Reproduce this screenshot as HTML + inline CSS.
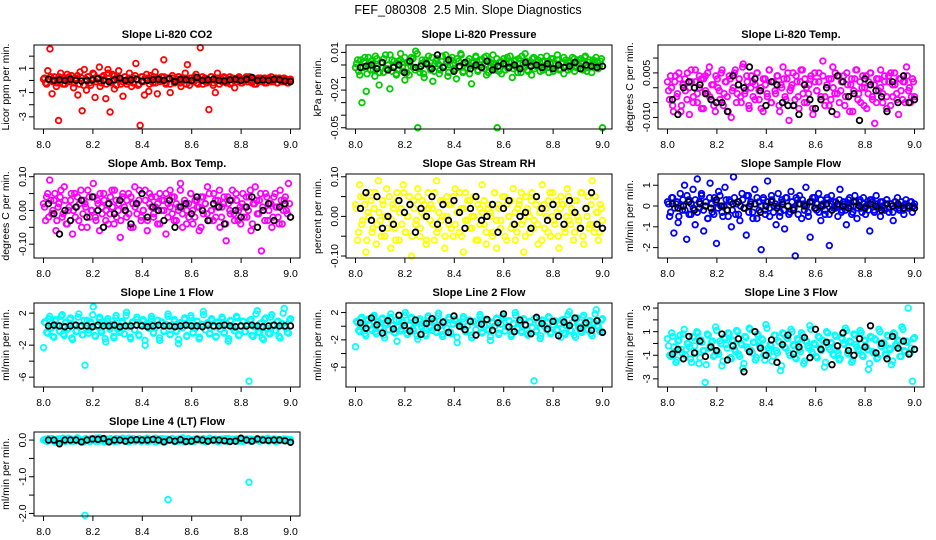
<!DOCTYPE html>
<html><head><meta charset="utf-8">
<style>
html,body{margin:0;padding:0;background:#fff;}
svg{display:block;font-family:"Liberation Sans",Arial,sans-serif;}
</style></head>
<body>
<svg id="chart" width="936" height="540" viewBox="0 0 936 540" xmlns="http://www.w3.org/2000/svg">
<rect x="0" y="0" width="936" height="540" fill="#fff"/>
<text x="468" y="14" text-anchor="middle" font-size="12.5" xml:space="preserve">FEF_080308  2.5 Min. Slope Diagnostics</text>
</svg>
<script>
const xTicks = [8.0, 8.2, 8.4, 8.6, 8.8, 9.0];
const xTickLabels = ["8.0", "8.2", "8.4", "8.6", "8.8", "9.0"];

const co2Vals = [0.1,-0.2,0.8,2.6,-1.1,0.3,-0.5,-3.3,0.6,0.2,-0.3,0.5,-0.1,0.4,-0.6,0.2,-1.2,0.7,-2.5,0.9,-0.8,0.3,-0.4,0.6,-1.4,0.1,1.1,-0.2,0.4,-1.5,0.9,-2.6,0.5,-0.7,0.2,0.8,-0.3,-1.3,0.3,-0.1,0.6,-0.5,0.2,1.4,-0.4,-3.7,0.3,-1.2,0.5,-0.9,0.4,-0.2,0.7,-1.1,0.1,0.3,1.7,-0.3,0.2,-1.0,0.4,-0.2,0.1,0.3,-0.5,0.2,0.6,1.3,-0.4,0.2,-0.1,0.5,-0.3,2.7,0.3,0.1,-0.2,-2.4,0.3,-0.4,-1.0,0.6,0.2,-0.1,0.3,-0.2,0.1,-0.3,0.2,-0.6,0.1,0.3,-0.2,0.1,0.2,-0.1,0.3,-0.2,0.1,-0.3,0.2,0.1,-0.1,0.2,-0.2,0.1,0.3,-0.1,0.2,-0.2,0.1,-0.1,0.2,0.1,-0.2,0.1];
const co2Vals2 = [0.2,-0.3,0.1,0.3,-0.1,0.0,-0.2,0.3,0.1,-0.3,0.2,-0.1,0.3,0.0,-0.2,0.1,0.4,-0.3,0.2,-0.4,0.1,0.3,-0.2,0.0,0.5,-0.1,0.2,-0.5,0.3,0.1,-0.3,0.6,-0.2,0.0,0.4,-0.4,0.2,0.1,-0.1,0.3,-0.3,0.2,0.0,-0.2,0.4,0.1,-0.3,0.3,-0.1,0.2,0.0,-0.3,0.1,0.3,-0.2,0.2,-0.1,0.0,0.3,-0.2,0.1,-0.3,0.2,0.0,-0.1,0.3,-0.2,0.1,0.2,-0.3,0.0,0.2,-0.1,0.3,-0.2,0.1,0.0,-0.3,0.2,0.1,-0.1,0.3,-0.2,0.0,0.2,-0.3,0.1,0.2,-0.1,0.0,0.3,-0.2,0.1,-0.1,0.2,0.0,-0.2,0.1,0.3,-0.1,0.0,0.2,-0.3,0.1,-0.1,0.2,0.0,-0.2,0.1,0.2,-0.1,0.0,0.1,-0.2,0.2,0.0,-0.1,0.1,-0.2,0.0];
const co2Ref = [0.1,0.0,0.05,0.0,0.1,0.0,-0.05,0.0,0.05,0.15,0.0,-0.1,0.05,0.2,0.0,0.05,0.1,-0.05,0.0,0.05,0.1,0.0,0.15,-0.1,0.1,0.05,0.0,0.25,0.0,0.05,0.1,0.0,-0.05,0.05,0.1,0.0,0.1,0.25,0.0,0.05,0.0,0.1,0.05,-0.05,-0.1];

const presVals = [-0.002,0.004,-0.008,-0.03,0.003,-0.021,0.006,-0.004,0.001,-0.009,0.005,-0.016,0.002,-0.006,0.008,-0.003,-0.019,0.004,-0.001,-0.007,0.003,0.009,-0.005,-0.012,0.002,-0.008,0.006,-0.002,0.011,-0.05,-0.006,0.004,-0.01,0.002,0.007,-0.004,-0.013,0.001,0.005,-0.007,0.003,-0.002,0.008,-0.009,0.0,0.006,-0.004,-0.011,0.003,0.009,-0.006,0.001,-0.003,0.005,-0.015,0.002,0.007,-0.005,0.004,-0.002,0.006,-0.008,0.003,-0.001,0.008,-0.004,-0.05,0.002,-0.007,0.005,0.001,-0.003,0.007,-0.01,0.003,-0.002,0.005,-0.006,0.001,0.009,-0.004,0.002,-0.008,0.006,-0.001,0.004,-0.005,0.003,-0.002,0.007,-0.006,0.002,0.005,-0.003,0.008,-0.004,0.001,-0.007,0.004,0.002,-0.003,0.006,-0.005,0.003,0.0,0.005,-0.004,0.007,-0.002,0.004,-0.006,0.001,0.006,-0.003,0.003,-0.05];
const presVals2 = [0.001,-0.005,0.004,-0.002,0.006,-0.007,0.0,0.003,-0.004,0.007,-0.001,-0.006,0.002,0.005,-0.003,0.0,0.008,-0.005,0.003,-0.008,0.001,0.004,-0.002,0.006,-0.006,0.002,-0.001,0.005,-0.004,0.009,-0.003,0.001,-0.007,0.004,0.0,-0.002,0.006,-0.005,0.003,0.001,-0.004,0.007,-0.001,0.002,-0.006,0.004,0.0,-0.003,0.005,-0.002,0.008,-0.005,0.001,0.003,-0.007,0.002,-0.001,0.006,-0.004,0.0,0.004,-0.003,0.007,-0.006,0.002,0.001,-0.002,0.005,-0.005,0.003,0.0,-0.004,0.006,-0.001,0.002,-0.003,0.004,-0.006,0.001,0.007,-0.002,0.003,-0.005,0.0,0.005,-0.003,0.002,-0.001,0.006,-0.004,0.003,0.0,-0.002,0.005,-0.005,0.001,0.004,-0.003,0.002,0.006,-0.001,-0.004,0.003,0.0,0.005,-0.002,0.004,-0.003,0.001,0.006,-0.005,0.002,0.0,0.004,-0.002,0.003,-0.001,0.005];
const presRef = [-0.002,-0.001,0.0,-0.003,0.002,-0.004,-0.002,0.0,-0.006,0.003,-0.002,-0.001,0.001,-0.003,0.008,-0.002,0.004,-0.005,-0.001,0.002,-0.003,0.0,-0.002,0.003,-0.004,-0.001,0.001,-0.002,0.0,-0.003,0.002,-0.001,0.0,-0.002,0.001,-0.003,0.0,-0.002,-0.001,0.002,-0.003,0.0,-0.001,-0.002,-0.001];

const tempVals = [0.002,-0.004,0.0,-0.008,0.004,-0.002,0.003,-0.006,0.001,-0.001,0.005,-0.009,0.002,-0.003,0.006,-0.005,0.0,0.003,-0.007,0.004,-0.002,0.007,-0.004,0.001,-0.008,0.003,-0.001,0.005,-0.006,0.002,-0.003,0.004,-0.01,0.0,0.006,-0.002,0.003,-0.005,0.008,-0.001,0.002,-0.007,0.004,-0.003,0.001,0.005,-0.004,0.0,-0.008,0.003,-0.002,0.006,-0.005,0.002,-0.001,0.004,-0.006,0.001,0.007,-0.003,0.003,-0.011,0.0,0.005,-0.004,0.002,-0.007,0.006,-0.002,0.003,-0.005,0.001,0.004,-0.009,0.002,-0.001,0.005,-0.003,0.009,-0.006,0.0,0.003,-0.004,0.007,-0.002,-0.009,0.004,-0.001,0.002,-0.006,0.005,-0.003,0.001,-0.008,0.003,0.006,-0.002,-0.005,0.004,0.0,-0.007,0.002,0.005,-0.004,-0.012,0.003,-0.001,0.006,-0.005,0.002,-0.003,0.004,-0.006,0.001,0.005,-0.002,-0.009,0.003,-0.004,0.002,0.007,-0.001,-0.005,0.003,-0.003];
const tempVals2 = [-0.001,0.004,-0.006,0.002,-0.003,0.005,-0.008,0.001,0.003,-0.004,0.0,0.006,-0.005,0.002,-0.002,0.004,-0.007,0.003,-0.001,0.005,-0.003,0.001,-0.006,0.004,0.0,-0.004,0.006,-0.002,0.002,-0.008,0.003,-0.001,0.005,-0.005,0.001,-0.003,0.007,-0.002,0.004,-0.006,0.0,0.002,-0.004,0.005,-0.001,-0.007,0.003,0.001,-0.003,0.006,-0.005,0.002,-0.002,0.004,-0.008,0.0,0.003,-0.004,0.005,-0.001,0.001,-0.006,0.004,-0.003,0.002,0.006,-0.005,0.0,-0.002,0.003,-0.007,0.005,-0.001,0.002,-0.004,0.004,-0.003,0.001,-0.006,0.003,0.0,0.005,-0.002,-0.005,0.002,0.004,-0.003,0.001,-0.008,0.003,-0.001,0.006,-0.004,0.002,0.0,-0.006,0.004,-0.002,0.005,-0.003,0.001,-0.005,0.003,0.0,-0.002,0.004,-0.007,0.002,0.005,-0.003,0.001,-0.004,0.003,-0.001,0.002,-0.005,0.004,0.0,-0.003,0.002];
const tempRef = [-0.004,-0.009,0.0,0.002,0.0,0.001,-0.002,-0.004,-0.005,-0.005,-0.008,0.004,0.001,0.0,0.007,0.003,-0.001,-0.006,0.002,0.001,-0.005,-0.006,-0.006,-0.009,0.001,-0.004,-0.007,-0.004,0.0,-0.008,0.004,0.002,-0.003,-0.002,-0.011,0.003,0.001,-0.001,-0.003,-0.008,0.002,-0.005,0.004,-0.005,-0.004];

const ambVals = [0.02,-0.03,0.05,0.09,-0.01,0.03,-0.06,0.01,0.04,-0.02,0.07,-0.04,0.0,0.03,-0.07,0.05,0.01,-0.03,0.06,-0.01,0.02,-0.05,0.04,0.0,0.08,-0.02,0.03,-0.06,0.01,0.05,-0.03,0.02,-0.01,0.06,-0.04,0.03,0.0,-0.08,0.04,0.01,-0.02,0.05,-0.05,0.02,0.07,-0.01,0.03,-0.03,0.0,0.06,-0.06,0.02,0.04,-0.02,0.01,-0.04,0.05,0.0,0.03,-0.07,0.02,0.06,-0.01,0.04,-0.03,0.01,0.08,-0.05,0.02,0.0,-0.02,0.05,-0.04,0.03,0.01,-0.06,0.04,-0.01,0.02,0.07,-0.03,0.0,0.05,-0.02,0.03,-0.05,0.01,0.04,-0.09,0.02,-0.01,0.06,-0.03,0.03,0.0,-0.04,0.05,0.01,-0.02,0.04,-0.06,0.02,0.07,-0.01,0.03,-0.12,0.0,0.05,-0.03,0.02,-0.05,0.04,0.01,-0.02,0.06,-0.04,0.03,0.0,0.08,-0.02];
const ambVals2 = [0.01,0.04,-0.02,0.03,0.0,0.05,-0.03,0.02,0.06,-0.01,0.03,-0.04,0.01,0.05,0.0,-0.02,0.04,0.02,-0.05,0.03,0.01,0.06,-0.02,0.0,0.04,-0.03,0.02,0.05,-0.01,0.03,0.0,-0.04,0.04,0.01,0.06,-0.02,0.02,-0.03,0.05,0.0,0.03,-0.01,0.04,-0.05,0.01,0.02,0.06,-0.02,0.0,0.03,-0.03,0.05,0.01,-0.01,0.04,0.02,-0.04,0.03,0.0,0.05,-0.02,0.01,0.04,-0.03,0.02,0.0,0.06,-0.01,0.03,-0.04,0.02,0.05,0.0,-0.02,0.03,0.01,-0.05,0.04,0.02,-0.01,0.05,0.0,-0.03,0.03,0.01,0.06,-0.02,0.02,-0.04,0.04,0.0,0.03,-0.01,0.05,-0.03,0.01,0.02,-0.02,0.04,0.0,0.06,-0.04,0.02,0.03,-0.01,0.05,0.01,-0.03,0.04,0.0,0.02,-0.02,0.05,0.01,-0.04,0.03,0.0,0.04,-0.01,0.02];
const ambRef = [0.02,-0.01,-0.07,0.0,-0.03,0.01,0.03,-0.02,0.04,0.0,-0.05,0.02,-0.01,0.03,0.0,-0.04,0.02,0.05,-0.02,0.01,0.0,-0.03,0.03,-0.05,0.01,0.02,-0.01,0.04,0.0,-0.03,0.02,0.01,-0.04,0.03,0.0,-0.02,0.01,0.04,-0.05,0.0,0.02,-0.03,0.01,0.02,-0.02];

const rhVals = [0.03,-0.06,0.08,-0.02,0.05,-0.09,0.01,0.06,-0.04,0.02,-0.07,0.09,-0.01,0.04,-0.05,0.07,0.0,-0.08,0.03,-0.03,0.06,-0.06,0.02,0.08,-0.04,0.0,0.05,-0.1,0.04,-0.02,0.07,-0.05,0.01,0.03,-0.07,0.06,-0.01,0.02,-0.06,0.09,-0.03,0.04,0.0,-0.08,0.05,-0.02,0.03,-0.05,0.07,0.01,-0.04,0.02,-0.09,0.06,-0.01,0.04,-0.03,0.0,0.05,-0.06,0.02,0.08,-0.02,-0.07,0.03,0.01,-0.04,0.06,-0.08,0.02,-0.01,0.05,-0.05,0.03,0.0,-0.03,0.07,-0.06,0.02,0.04,-0.02,-0.09,0.05,0.01,-0.04,0.06,-0.01,0.03,-0.07,0.02,0.08,-0.03,0.0,0.04,-0.05,0.06,-0.02,0.01,-0.08,0.05,0.03,-0.04,0.07,-0.01,0.02,-0.06,0.04,0.0,-0.03,0.06,-0.07,0.02,0.05,-0.02,0.09,-0.04,0.01,-0.06,0.03,-0.01];
const rhVals2 = [0.02,-0.04,0.05,-0.01,0.03,-0.06,0.0,0.04,-0.03,0.06,-0.02,0.01,-0.05,0.03,0.0,-0.03,0.05,-0.01,0.02,-0.06,0.04,0.01,-0.02,0.06,-0.04,0.0,0.03,-0.05,0.02,-0.01,0.05,-0.03,0.04,0.0,-0.06,0.02,0.03,-0.02,0.06,-0.04,0.01,-0.01,0.04,-0.05,0.0,0.03,-0.03,0.05,-0.02,0.01,0.06,-0.05,0.02,-0.01,0.04,-0.03,0.0,0.05,-0.06,0.03,-0.02,0.01,0.04,-0.04,0.02,0.0,-0.05,0.06,-0.01,0.03,-0.03,0.02,0.05,-0.06,0.0,0.04,-0.02,0.01,-0.04,0.03,0.06,-0.01,-0.05,0.02,0.0,0.04,-0.03,0.05,-0.02,0.01,-0.06,0.03,0.02,-0.04,0.06,0.0,-0.01,0.04,-0.05,0.02,0.03,-0.03,0.0,0.05,-0.02,0.01,-0.04,0.04,-0.01,0.06,-0.05,0.02,0.0,-0.03,0.03,-0.02,0.05,0.01,-0.04,0.02];
const rhRef = [0.02,0.06,-0.01,0.05,-0.03,0.0,-0.02,0.04,0.01,0.03,-0.04,0.02,0.0,0.05,-0.02,0.03,-0.01,0.04,0.01,-0.03,0.02,0.05,-0.01,0.0,0.03,-0.04,0.02,0.04,-0.02,0.0,0.01,-0.03,0.05,0.02,-0.01,0.03,0.0,-0.02,0.04,0.01,-0.03,0.02,0.06,-0.02,-0.03];

const sampVals = [0.2,-0.5,0.4,-1.3,0.1,-0.8,0.6,-0.2,1.0,-1.6,0.3,-0.4,0.8,-0.9,1.3,-0.1,0.5,-1.2,0.2,-0.6,1.1,-0.3,0.4,-1.8,0.7,0.0,-0.5,0.9,-0.2,0.3,-1.0,1.4,-0.4,0.2,-0.7,0.6,-0.1,-1.4,0.5,0.1,-0.3,0.8,-0.6,0.2,-2.1,0.4,-0.2,1.2,-0.5,0.3,0.0,-0.9,0.6,-0.3,0.2,-1.1,0.4,-0.4,0.7,-0.1,-2.4,0.3,0.5,-0.6,0.1,0.9,-0.3,-1.5,0.2,0.4,-0.2,0.6,-0.7,0.1,-0.4,0.3,-1.9,0.5,-0.1,0.2,-0.5,0.8,-0.2,0.1,-0.9,0.3,0.0,-0.3,0.5,-0.6,0.2,-0.1,0.4,-0.4,0.1,-1.2,0.3,-0.2,0.5,0.0,-0.5,0.2,-0.1,0.3,-0.3,0.1,-0.7,0.2,0.4,-0.2,0.0,-0.4,0.3,-0.1,0.2,-0.3,0.1];
const sampVals2 = [0.1,-0.3,0.4,-0.1,0.2,-0.5,0.0,0.3,-0.2,0.5,-0.4,0.1,-0.1,0.3,-0.3,0.2,0.6,-0.2,0.0,-0.6,0.4,0.1,-0.4,0.2,-0.1,0.5,-0.3,0.0,0.3,-0.5,0.2,-0.2,0.4,0.1,-0.4,0.0,0.3,-0.1,0.5,-0.3,0.2,-0.6,0.1,0.4,-0.2,0.0,0.3,-0.4,0.2,-0.1,0.5,-0.3,0.1,0.0,-0.5,0.3,-0.2,0.4,0.0,-0.3,0.2,-0.1,0.4,-0.4,0.1,0.3,-0.2,0.0,-0.5,0.2,0.4,-0.1,0.1,-0.3,0.3,0.0,-0.2,0.4,-0.4,0.1,0.2,-0.1,0.0,0.3,-0.3,0.2,-0.2,0.1,0.4,-0.4,0.0,0.2,-0.1,0.3,-0.3,0.1,0.0,-0.2,0.3,0.2,-0.3,0.1,-0.1,0.2,0.0,-0.2,0.3,-0.1,0.1,-0.3,0.2,0.0,-0.1,0.2,-0.2,0.1,0.0,-0.1,0.2,0.0];
const sampRef = [0.1,-0.1,0.0,0.2,-0.2,0.1,0.0,-0.1,0.3,0.0,-0.2,0.1,0.2,-0.1,0.0,0.1,-0.3,0.0,0.2,-0.1,0.1,0.0,-0.2,0.1,0.0,0.2,-0.1,0.0,0.1,-0.2,0.1,0.0,-0.1,0.2,0.0,-0.1,0.1,0.0,-0.2,0.1,0.0,0.1,-0.1,0.0,-0.1];

const line1Vals = [-2.3,0.8,-0.5,1.6,0.2,-1.0,1.2,0.5,-0.3,1.8,-0.8,0.9,0.1,1.4,-1.3,0.6,-0.2,1.9,0.4,-0.7,-4.5,1.1,-0.1,0.7,2.8,-0.9,0.3,1.5,-0.4,0.9,-1.6,1.3,0.0,0.6,-1.1,1.7,0.2,-0.3,1.0,-0.6,2.1,0.4,-1.2,0.8,-0.1,1.5,-0.8,0.5,1.2,-2.0,0.7,0.1,1.6,-0.5,0.3,1.1,-1.4,0.9,-0.2,0.6,1.9,-0.7,0.4,1.2,-0.3,-1.8,0.8,0.2,1.4,-0.9,0.5,1.7,-0.4,0.1,1.0,-1.2,0.6,2.2,-0.1,0.8,-0.6,1.3,0.3,-1.0,0.9,0.0,1.5,-0.5,0.7,-1.5,1.1,0.2,-0.2,1.6,-0.8,0.4,1.0,-0.3,0.6,-6.5,1.2,-0.9,0.3,2.3,-0.4,0.8,-1.3,1.4,0.1,-0.6,1.8,0.5,-0.2,1.0,-1.1,0.7,2.6,0.2,-0.5,1.3];
const line1Vals2 = [0.9,-0.4,1.3,0.2,-0.9,1.0,0.5,-0.2,1.6,-0.6,0.8,0.0,1.2,-1.1,0.6,-0.3,1.5,0.3,-0.7,1.1,0.1,-0.5,0.9,1.8,-0.8,0.4,1.3,-0.2,0.7,-1.2,1.0,0.2,0.5,-0.9,1.4,0.0,-0.4,0.8,-0.6,1.7,0.3,-1.0,0.9,-0.1,1.2,-0.7,0.6,1.0,-1.4,0.5,0.1,1.3,-0.4,0.2,1.1,-1.1,0.8,-0.3,0.6,1.6,-0.6,0.4,1.0,-0.2,-1.3,0.7,0.2,1.2,-0.8,0.5,1.4,-0.5,0.1,0.9,-1.0,0.6,1.8,-0.1,0.7,-0.5,1.1,0.3,-0.9,0.8,0.0,1.3,-0.4,0.6,-1.2,1.0,0.2,-0.2,1.4,-0.7,0.4,0.9,-0.3,0.6,1.1,-0.8,0.3,1.9,-0.4,0.7,-1.1,1.2,0.1,-0.5,1.5,0.5,-0.2,0.9,-0.9,0.6,2.0,0.2,-0.4,1.1];
const line1Ref = [0.4,0.5,0.4,0.3,0.4,0.5,0.4,0.4,0.3,0.5,0.4,0.4,0.5,0.3,0.4,0.4,0.5,0.4,0.3,0.4,0.5,0.4,0.4,0.3,0.4,0.5,0.4,0.4,0.3,0.5,0.4,0.4,0.5,0.4,0.3,0.4,0.4,0.5,0.4,0.3,0.4,0.5,0.4,0.4,0.4];

const line2Vals = [-3.0,0.5,-0.8,1.3,0.0,-1.4,1.0,0.2,-0.6,1.6,-1.1,0.7,-0.2,1.2,-1.7,0.4,-0.5,1.8,0.1,-1.0,-2.2,0.9,-0.4,0.5,2.0,-1.2,0.1,1.3,-0.7,0.6,-1.9,1.1,-0.2,0.4,-1.4,1.5,0.0,-0.6,0.8,-0.9,1.9,0.2,-1.5,0.6,-0.3,1.3,-1.1,0.3,1.0,-2.4,0.5,-0.1,1.4,-0.8,0.1,0.9,-1.7,0.7,-0.5,0.4,1.7,-1.0,0.2,1.0,-0.6,-2.1,0.6,0.0,1.2,-1.2,0.3,1.5,-0.7,-0.1,0.8,-1.5,0.4,2.0,-0.4,0.6,-0.9,1.1,0.1,-1.3,0.7,-0.2,-8.0,-0.8,0.5,-1.8,0.9,0.0,-0.5,1.4,-1.1,0.2,0.8,-0.6,0.4,-1.6,1.0,-1.2,0.1,2.1,-0.7,0.6,-1.6,1.2,-0.1,-0.9,1.6,0.3,-0.5,0.8,-1.4,0.5,2.4,0.0,-0.8,1.1];
const line2Vals2 = [0.7,-0.6,1.1,0.0,-1.1,0.8,0.3,-0.4,1.4,-0.8,0.6,-0.2,1.0,-1.3,0.4,-0.5,1.3,0.1,-0.9,0.9,-0.1,-0.7,0.7,1.6,-1.0,0.2,1.1,-0.4,0.5,-1.4,0.8,0.0,0.3,-1.1,1.2,-0.2,-0.6,0.6,-0.8,1.5,0.1,-1.2,0.7,-0.3,1.0,-0.9,0.4,0.8,-1.6,0.3,-0.1,1.1,-0.6,0.0,0.9,-1.3,0.6,-0.5,0.4,1.4,-0.8,0.2,0.8,-0.4,-1.5,0.5,0.0,1.0,-1.0,0.3,1.2,-0.7,-0.1,0.7,-1.2,0.4,1.6,-0.3,0.5,-0.7,0.9,0.1,-1.1,0.6,-0.2,1.1,-0.6,0.4,-1.4,0.8,0.0,-0.4,1.2,-0.9,0.2,0.7,-0.5,0.4,0.9,-1.0,0.1,1.7,-0.6,0.5,-1.3,1.0,-0.1,-0.7,1.3,0.3,-0.4,0.7,-1.1,0.4,1.8,0.0,-0.6,0.9];
const line2Ref = [0.5,-0.3,1.2,0.2,-1.0,0.8,-0.4,1.6,0.1,-0.7,0.9,-1.2,0.4,1.1,-0.2,0.6,-0.9,1.5,0.0,-0.5,0.7,-1.3,0.3,1.0,-0.6,0.5,1.8,-0.1,-0.8,0.9,0.2,-1.1,1.3,0.4,-0.4,0.7,-1.4,0.6,0.1,1.2,-0.3,0.5,-0.6,0.8,-0.9];

const line3Vals = [0.4,-1.0,0.9,-0.3,-1.6,0.2,0.7,-0.8,1.2,-0.5,0.0,-1.3,0.6,-0.2,1.0,-1.7,0.3,-0.6,-3.3,0.8,-0.4,0.1,-1.1,1.4,-0.7,0.2,-1.9,0.5,-0.1,0.9,-1.2,0.3,-0.5,1.1,-0.9,0.0,-2.1,0.6,-0.3,1.3,-0.6,0.1,-1.4,0.8,-0.2,0.4,-1.0,1.6,-0.4,-0.1,-1.5,0.7,-0.6,0.2,-2.3,0.9,-0.3,0.5,-0.8,1.2,-0.1,-1.2,0.4,-0.5,0.9,-1.7,0.2,-0.2,1.5,-0.7,0.0,-1.1,0.6,-0.4,0.3,-2.0,1.0,-0.3,0.1,-0.9,0.7,-0.6,-1.4,0.5,0.0,1.3,-0.8,0.2,-1.6,0.8,-0.1,-0.5,1.1,-1.0,0.3,-0.3,-2.2,0.6,-0.7,0.4,-1.3,1.2,-0.2,0.1,-0.9,0.7,-0.4,-1.8,0.9,-0.1,0.3,-1.1,1.4,-0.6,0.2,3.0,-0.8,-3.2,0.5];
const line3Vals2 = [-0.2,-1.1,0.6,-0.7,-1.4,0.3,-0.5,0.8,-1.0,0.0,-0.3,-1.6,0.5,-0.8,0.9,-1.2,0.1,-0.6,-1.8,0.7,-0.2,0.2,-1.0,1.1,-0.9,0.0,-1.5,0.4,-0.4,0.8,-1.3,0.2,-0.7,1.0,-1.1,-0.1,-1.7,0.5,-0.5,1.2,-0.8,0.1,-1.2,0.6,-0.3,0.3,-1.4,1.3,-0.6,-0.2,-1.1,0.7,-0.8,0.1,-1.9,0.8,-0.4,0.4,-1.0,1.0,-0.2,-1.3,0.3,-0.7,0.7,-1.5,0.2,-0.4,1.2,-0.9,-0.1,-1.2,0.5,-0.6,0.2,-1.6,0.9,-0.5,0.0,-1.0,0.6,-0.8,-1.3,0.4,-0.1,1.1,-0.9,0.1,-1.4,0.7,-0.3,-0.6,0.9,-1.1,0.2,-0.5,-1.7,0.5,-0.8,0.3,-1.2,1.0,-0.3,0.0,-1.0,0.6,-0.5,-1.5,0.8,-0.2,0.2,-1.1,1.2,-0.7,0.1,-0.9,-0.4,0.4];
const line3Ref = [-0.9,-0.5,-1.3,0.6,-0.8,0.2,-1.1,-0.3,-0.6,0.8,-1.4,-0.2,0.4,-2.4,-0.7,1.0,-0.4,-1.0,0.3,-1.6,-0.1,0.7,-0.9,-0.3,0.5,-1.2,1.2,-0.5,0.1,-1.8,-0.2,0.9,-0.6,-1.0,0.4,-0.3,1.5,-0.8,0.0,-1.3,0.6,-0.4,0.2,-0.9,-0.5];

const line4Vals = [0.0,0.02,-0.03,0.01,0.04,-0.02,0.0,0.03,-0.04,0.01,0.02,-0.01,0.05,-0.03,0.0,0.02,-0.02,0.03,0.01,-0.04,-2.05,0.02,-0.01,0.04,0.0,-0.03,0.02,0.06,-0.02,0.01,0.03,-0.04,0.0,0.02,-0.01,0.04,-0.03,0.01,0.0,0.03,-0.02,0.05,-0.01,0.02,-0.03,0.0,0.04,-0.02,0.01,0.03,-0.04,0.02,0.0,-0.01,0.05,-0.03,0.02,0.01,-0.02,0.03,-1.62,0.0,0.04,-0.02,0.01,-0.03,0.02,0.06,-0.01,0.0,0.03,-0.04,0.02,-0.01,0.04,0.0,-0.02,0.03,0.01,-0.03,0.05,0.0,-0.02,0.02,-0.04,0.01,0.03,-0.01,0.0,0.04,-0.03,0.02,0.01,-0.02,0.03,0.0,-0.04,0.02,0.01,-1.15,0.03,-0.02,0.0,0.04,-0.03,0.02,0.01,-0.01,0.05,-0.02,0.0,0.03,-0.04,0.02,0.01,-0.01,0.03,0.0,-0.02,0.01];
const line4Vals2 = [0.01,-0.03,0.04,-0.01,0.02,-0.05,0.0,0.03,-0.02,0.05,-0.04,0.01,-0.01,0.03,-0.03,0.02,0.06,-0.02,0.0,-0.05,0.04,0.01,-0.04,0.02,-0.01,0.05,-0.03,0.0,0.03,-0.05,0.02,-0.02,0.04,0.01,-0.04,0.0,0.03,-0.01,0.05,-0.03,0.02,-0.05,0.01,0.04,-0.02,0.0,0.03,-0.04,0.02,-0.01,0.05,-0.03,0.01,0.0,-0.05,0.03,-0.02,0.04,0.0,-0.03,0.02,-0.01,0.04,-0.04,0.01,0.03,-0.02,0.0,-0.05,0.02,0.04,-0.01,0.01,-0.03,0.03,0.0,-0.02,0.04,-0.04,0.01,0.02,-0.01,0.0,0.03,-0.03,0.02,-0.02,0.01,0.04,-0.04,0.0,0.02,-0.01,0.03,-0.03,0.01,0.0,-0.02,0.03,0.02,-0.03,0.01,-0.01,0.02,0.0,-0.02,0.03,-0.01,0.01,-0.03,0.02,0.0,-0.01,0.02,-0.02,0.01,0.0,-0.01,0.02,0.0];
const line4Ref = [0.0,0.0,-0.1,0.0,0.0,0.0,-0.05,0.0,0.03,0.02,0.04,-0.05,0.0,0.0,-0.03,0.0,0.01,0.0,0.0,0.02,0.0,-0.05,0.0,-0.03,0.01,-0.04,-0.03,0.02,0.0,-0.03,0.0,0.0,-0.02,-0.04,-0.03,0.05,0.0,-0.03,0.03,0.0,-0.01,0.0,0.0,-0.02,-0.06];

const panels = [
 {key:"co2", title:"Slope Li-820 CO2", ylab:"Licor ppm per min.", col:0,row:0, color:"#ff0000", vals:co2Vals, vals2:co2Vals2, ref:co2Ref, ymin:-4.0, ymax:2.92, ticks:[-3,-2,-1,0,1,2], labels:["-3","","-1","","1",""]},
 {key:"pressure", title:"Slope Li-820 Pressure", ylab:"kPa per min.", col:1,row:0, color:"#00cc00", vals:presVals, vals2:presVals2, ref:presRef, ymin:-0.051, ymax:0.0159, ticks:[-0.05,-0.04,-0.03,-0.02,-0.01,0,0.01], labels:["-0.05","","","-0.02","","","0.01"]},
 {key:"temp", title:"Slope Li-820 Temp.", ylab:"degrees C per min.", col:2,row:0, color:"#ff00ff", vals:tempVals, vals2:tempVals2, ref:tempRef, ymin:-0.0139, ymax:0.0144, ticks:[-0.010,-0.005,0,0.005,0.010], labels:["-0.010","","","0.005",""]},
 {key:"amb", title:"Slope Amb. Box Temp.", ylab:"degrees C per min.", col:0,row:1, color:"#ff00ff", vals:ambVals, vals2:ambVals2, ref:ambRef, ymin:-0.141, ymax:0.108, ticks:[-0.10,-0.05,0,0.05,0.10], labels:["-0.10","","0.00","","0.10"]},
 {key:"rh", title:"Slope Gas Stream RH", ylab:"percent per min.", col:1,row:1, color:"#ffff00", vals:rhVals, vals2:rhVals2, ref:rhRef, ymin:-0.105, ymax:0.107, ticks:[-0.10,-0.05,0,0.05,0.10], labels:["-0.10","","0.00","","0.10"]},
 {key:"sample", title:"Slope Sample Flow", ylab:"ml/min per min.", col:2,row:1, color:"#0000ff", vals:sampVals, vals2:sampVals2, ref:sampRef, ymin:-2.5, ymax:1.54, ticks:[-2,-1,0,1], labels:["-2","-1","0","1"]},
 {key:"line1", title:"Slope Line 1 Flow", ylab:"ml/min per min.", col:0,row:2, color:"#00ffff", vals:line1Vals, vals2:line1Vals2, ref:line1Ref, ymin:-7.23, ymax:3.27, ticks:[-6,-4,-2,0,2], labels:["-6","","-2","","2"]},
 {key:"line2", title:"Slope Line 2 Flow", ylab:"ml/min per min.", col:1,row:2, color:"#00ffff", vals:line2Vals, vals2:line2Vals2, ref:line2Ref, ymin:-8.9, ymax:3.4, ticks:[-6,-4,-2,0,2], labels:["-6","","-2","","2"]},
 {key:"line3", title:"Slope Line 3 Flow", ylab:"ml/min per min.", col:2,row:2, color:"#00ffff", vals:line3Vals, vals2:line3Vals2, ref:line3Ref, ymin:-3.69, ymax:3.43, ticks:[-3,-2,-1,0,1,2,3], labels:["-3","","-1","","1","","3"]},
 {key:"line4", title:"Slope Line 4 (LT) Flow", ylab:"ml/min per min.", col:0,row:3, color:"#00ffff", vals:line4Vals, vals2:line4Vals2, ref:line4Ref, ymin:-2.07, ymax:0.22, ticks:[-2,-1.5,-1,-0.5,0], labels:["-2.0","","-1.0","","0.0"]}
];

const NS = "http://www.w3.org/2000/svg";
const svg = document.getElementById("chart");
const colLeft = [34, 346, 658];
const rowTop = [45, 174, 303, 432];
const BW = 266, BH = 84;

function mk(tag, attrs, parent) {
  const e = document.createElementNS(NS, tag);
  for (const k in attrs) e.setAttribute(k, attrs[k]);
  parent.appendChild(e);
  return e;
}

panels.forEach(p => {
  const L = colLeft[p.col], T = rowTop[p.row];
  const g = mk("g", {}, svg);
  
  
  const xs = v => L + 9.5 + (v - 8.0) * 247;
  const ys = v => T + BH - (v - p.ymin) / (p.ymax - p.ymin) * BH;

  const title = mk("text", {x: L + BW/2, y: T - 7, "text-anchor": "middle", "font-size": "11", "font-weight": "bold"}, g);
  
  
  title.textContent = p.title;

  const yl = mk("text", {x: 0, y: 0, "text-anchor": "middle", "font-size": "10.5", transform: `translate(${L-25},${T+BH/2}) rotate(-90)`}, g);
  
  
  yl.textContent = p.ylab;

  const pts = mk("g", {fill: "none", "stroke-width": "1.8"}, g);
  
  
  const n2 = p.vals2.length;
  p.vals2.forEach((v, i) => {
    const t = 8.0 + (i + 0.5) / n2;
    const c = mk("circle", {cx: xs(t), cy: ys(v), r: 2.8, stroke: p.color}, pts);
    
    
  });
  const n = p.vals.length;
  p.vals.forEach((v, i) => {
    const t = 8.0 + i / (n - 1);
    const c = mk("circle", {cx: xs(t), cy: ys(v), r: 2.8, stroke: p.color}, pts);
    
    
  });
  const refg = mk("g", {fill: "none", "stroke-width": "1.8"}, g);
  
  
  const m = p.ref.length;
  p.ref.forEach((v, i) => {
    const t = 8.02 + 0.98 * i / (m - 1);
    const c = mk("circle", {cx: xs(t), cy: ys(v), r: 2.8, stroke: "#000"}, refg);
    
    
  });

  const box = mk("rect", {x: L, y: T, width: BW, height: BH, fill: "none", stroke: "#000", "stroke-width": "1"}, g);
  
  

  const xa = mk("g", {}, g);
  
  
  xTicks.forEach((v, i) => {
    mk("line", {x1: xs(v), x2: xs(v), y1: T+BH, y2: T+BH+5, stroke: "#000"}, xa);
    const tl = mk("text", {x: xs(v), y: T+BH+19, "text-anchor": "middle", "font-size": "10.5"}, xa);
    
    
    tl.textContent = xTickLabels[i];
  });
  const ya = mk("g", {}, g);
  
  
  p.ticks.forEach((v, i) => {
    mk("line", {x1: L-5, x2: L, y1: ys(v), y2: ys(v), stroke: "#000"}, ya);
    if (p.labels[i]) {
      const tl = mk("text", {x: 0, y: 0, "text-anchor": "middle", "font-size": "10.5", transform: `translate(${L-8},${ys(v)}) rotate(-90)`}, ya);
      
      
      tl.textContent = p.labels[i];
    }
  });
});
</script>
</body></html>
